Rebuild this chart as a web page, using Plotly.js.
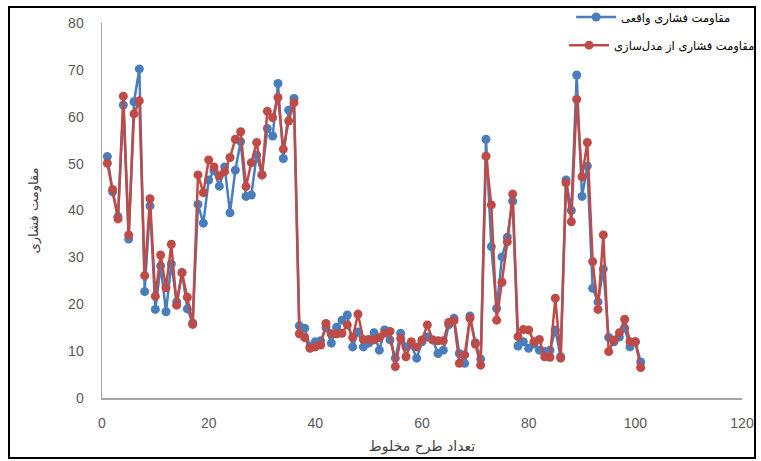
<!DOCTYPE html>
<html>
<head>
<meta charset="utf-8">
<script src="https://cdn.plot.ly/plotly-3.0.1.min.js"></script>
<style>
html,body{margin:0;padding:0;background:#fff;}
#wrap{position:relative;width:761px;height:461px;}
#chart{width:761px;height:461px;}
#frame{position:absolute;left:8px;top:6px;width:748px;height:453px;border:2px solid #000;pointer-events:none;box-sizing:border-box;}
</style>
</head>
<body>
<div id="wrap"><div id="chart"></div><div id="frame"></div></div>
<script>
const mixIndex = Array.from({length: 101}, (_, i) => i + 1);

const actualStrength = [
  51.5, 44.0, 38.7, 62.5, 33.9, 63.2, 70.2, 22.7, 41.0, 18.9,
  28.2, 18.4, 28.6, 20.5, 26.8, 19.0, 16.0, 41.3, 37.3, 46.5,
  48.5, 45.2, 49.3, 39.5, 48.6, 54.7, 43.0, 43.3, 51.8, 47.6,
  57.5, 55.9, 67.1, 51.1, 61.4, 63.9, 15.4, 14.9, 11.0, 12.0,
  12.2, 15.0, 11.7, 15.1, 16.6, 17.7, 10.9, 14.1, 10.9, 11.7,
  13.9, 10.2, 14.5, 12.4, 8.5, 13.8, 10.9, 11.3, 8.5, 12.0,
  13.0, 12.4, 9.5, 10.2, 15.6, 17.0, 9.5, 7.4, 17.5, 11.8,
  8.3, 55.2, 32.3, 19.1, 30.1, 34.3, 42.0, 11.1, 12.0, 10.6,
  11.5, 10.2, 9.9, 10.2, 14.5, 8.8, 46.5, 40.0, 68.9, 43.0,
  49.5, 23.4, 20.5, 27.5, 12.9, 12.0, 13.0, 14.9, 10.9, 12.0,
  7.7
];

const modelStrength = [
  50.1, 44.5, 38.2, 64.4, 34.8, 60.6, 63.4, 26.1, 42.5, 21.7,
  30.5, 23.5, 32.8, 19.8, 26.7, 21.5, 15.7, 47.6, 43.8, 50.8,
  49.3, 47.4, 48.3, 51.3, 55.2, 56.8, 45.1, 50.2, 54.5, 47.6,
  61.2, 59.8, 64.1, 53.1, 59.1, 63.0, 13.7, 12.9, 10.6, 10.9,
  11.3, 15.9, 13.7, 13.7, 13.8, 15.6, 12.9, 17.9, 12.5, 12.5,
  12.4, 12.9, 13.8, 14.2, 6.7, 12.7, 8.8, 12.0, 10.9, 12.4,
  15.6, 12.4, 12.2, 12.2, 16.1, 16.5, 7.4, 9.2, 17.0, 11.5,
  7.0, 51.6, 41.2, 16.6, 24.7, 33.3, 43.5, 13.1, 14.6, 14.5,
  12.0, 12.5, 8.8, 8.7, 21.3, 8.5, 45.9, 37.6, 63.7, 47.2,
  54.5, 29.1, 18.9, 34.8, 9.9, 12.4, 13.9, 16.8, 12.0, 12.0,
  6.5
];

const seriesNames = ['مقاومت فشاری واقعی', 'مقاومت فشاری از مدل\u200cسازی'];
const xTitle = 'تعداد طرح مخلوط';
const yTitle = 'مقاومت فشاری';
const xTicks = [0, 20, 40, 60, 80, 100, 120];
const yTicks = [0, 10, 20, 30, 40, 50, 60, 70, 80];

const blue = '#4A7EBB';
const red = '#BE4B48';
const arabicFont = 'DejaVu Sans, Noto Sans, sans-serif';

const traces = [
  {
    x: mixIndex, y: actualStrength, name: seriesNames[0], type: 'scatter', mode: 'lines+markers',
    line: {color: blue, width: 2.5}, marker: {color: blue, size: 9, symbol: 'circle'},
    legend: 'legend'
  },
  {
    x: mixIndex, y: modelStrength, name: seriesNames[1], type: 'scatter', mode: 'lines+markers',
    line: {color: red, width: 2.5}, marker: {color: red, size: 9, symbol: 'circle'},
    legend: 'legend2'
  }
];

const legendCommon = {
  bgcolor: 'rgba(0,0,0,0)', borderwidth: 0,
  font: {family: arabicFont, size: 11.5, color: '#000'},
  xanchor: 'left', yanchor: 'middle', itemwidth: 40
};

const layout = {
  width: 761, height: 461,
  margin: {l: 102, r: 19, t: 23, b: 63, autoexpand: false},
  paper_bgcolor: '#fff', plot_bgcolor: '#fff',
  showlegend: true,
  font: {family: 'Liberation Sans, Arial, sans-serif', color: '#595959', size: 14},
  xaxis: {
    range: [0, 120], tickvals: xTicks, ticktext: xTicks.map(String),
    showgrid: false, zeroline: false, showline: true, linecolor: '#A6A6A6', linewidth: 1.5,
    ticks: '', ticklabelstandoff: 12,
    tickfont: {family: 'Liberation Sans, Arial, sans-serif', size: 14, color: '#595959'},
    title: {text: xTitle, font: {family: arabicFont, size: 14, color: '#404040'}, standoff: 11},
    automargin: false
  },
  yaxis: {
    range: [0, 80], tickvals: yTicks, ticktext: yTicks.map(String),
    showgrid: false, zeroline: false, showline: true, linecolor: '#A6A6A6', linewidth: 1.5,
    ticks: '', ticklabelstandoff: 14,
    tickfont: {family: 'Liberation Sans, Arial, sans-serif', size: 14, color: '#595959'},
    title: {text: yTitle, font: {family: arabicFont, size: 13, color: '#404040'}, standoff: 26},
    automargin: false
  },
  legend: Object.assign({}, legendCommon, {x: 0.733, y: 1.016}),
  legend2: Object.assign({}, legendCommon, {x: 0.722, y: 0.941})
};

Plotly.newPlot('chart', traces, layout, {displayModeBar: false, staticPlot: true});
</script>
</body>
</html>
